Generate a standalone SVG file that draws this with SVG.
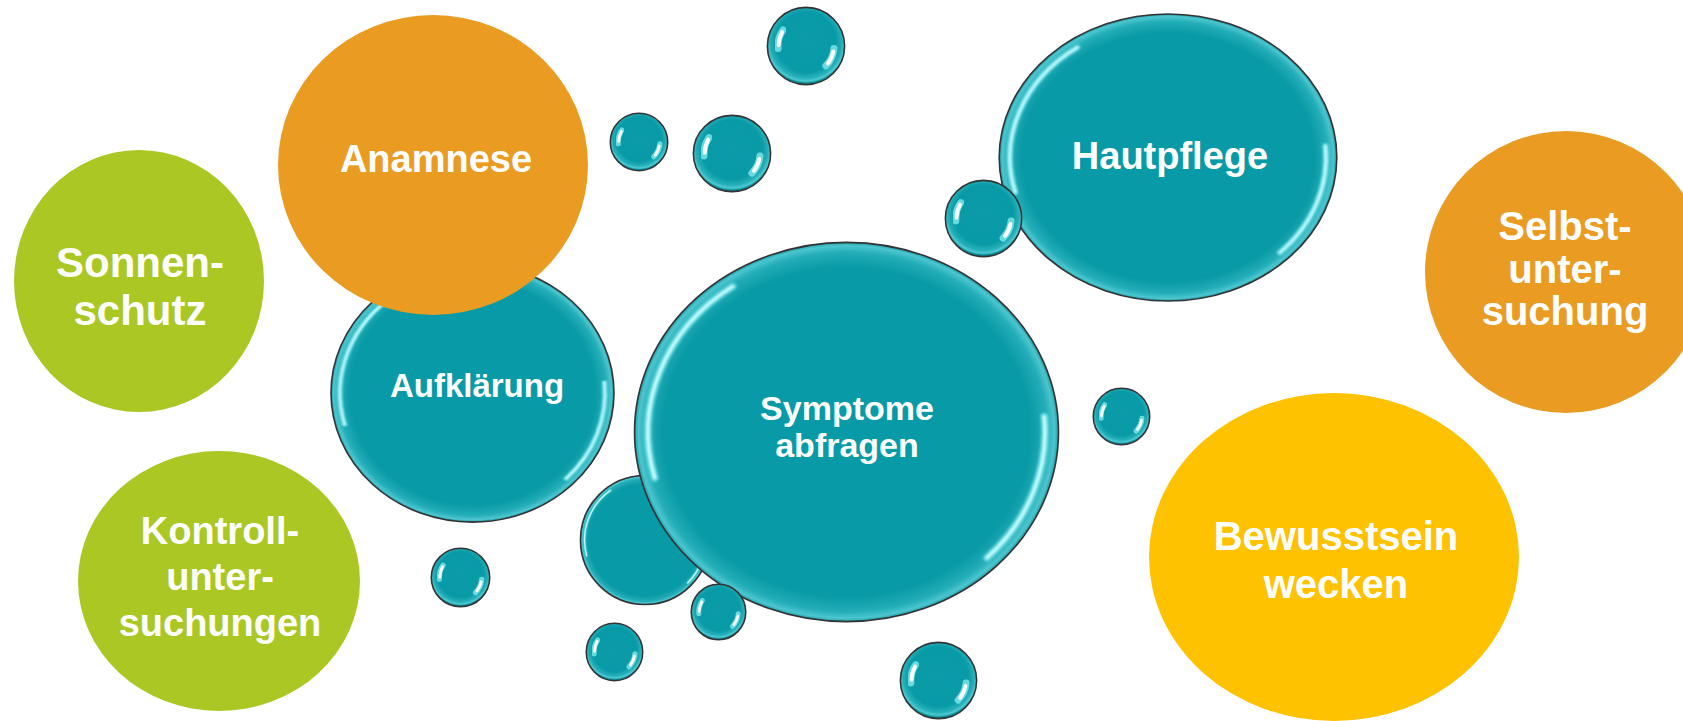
<svg xmlns="http://www.w3.org/2000/svg" xmlns:xlink="http://www.w3.org/1999/xlink" width="1683" height="721" viewBox="0 0 1683 721">
<style>
.lbl{font-family:"Liberation Sans",Arial,sans-serif;font-weight:bold;fill:#ffffff;text-anchor:middle}
.f42{font-size:42px}
.f40{font-size:40px}
.f38{font-size:38px}
.f34{font-size:34px}
.f33{font-size:33px}
.green{fill:#aac724}
.orange{fill:#ea9b22}
.yellow{fill:#fec200}
.outline{fill:none;stroke:#333333;stroke-width:1.6}
</style>
<defs>
<radialGradient id="gT" cx="0" cy="0" r="100" gradientUnits="userSpaceOnUse">
<stop offset="0" stop-color="#089aa6"/>
<stop offset="0.86" stop-color="#089aa6"/>
<stop offset="0.94" stop-color="#23adb8"/>
<stop offset="0.975" stop-color="#4cc6cf"/>
<stop offset="1" stop-color="#0b8c97"/>
</radialGradient>
<radialGradient id="gS" cx="0" cy="-10" r="110" gradientUnits="userSpaceOnUse">
<stop offset="0" stop-color="#0c9ca9"/>
<stop offset="0.7" stop-color="#089aa6"/>
<stop offset="0.84" stop-color="#25b0ba"/>
<stop offset="0.91" stop-color="#50c9d1"/>
<stop offset="0.95" stop-color="#0b8f9a"/>
</radialGradient>
<filter id="softL" x="-50%" y="-50%" width="200%" height="200%"><feGaussianBlur stdDeviation="0.6"/></filter>
<filter id="softS" x="-50%" y="-50%" width="200%" height="200%"><feGaussianBlur stdDeviation="2"/></filter>
<symbol id="bubbleL" viewBox="-100 -100 200 200" preserveAspectRatio="none" overflow="visible">
<circle r="99.3" fill="url(#gT)"/>
<path d="M -89.8 24.1 A 93 93 0 0 1 -53.3 -76.2" fill="none" stroke="#7fe9ef" stroke-width="4" stroke-linecap="round" opacity="0.55" filter="url(#softL)"/>
<path d="M -89.8 24.1 A 93 93 0 0 1 -53.3 -76.2" fill="none" stroke="#c4fcff" stroke-width="1.8" stroke-linecap="round" filter="url(#softL)"/>
<path d="M 92.6 -8.1 A 93 93 0 0 1 65.8 65.8" fill="none" stroke="#7fe9ef" stroke-width="4" stroke-linecap="round" opacity="0.55" filter="url(#softL)"/>
<path d="M 92.6 -8.1 A 93 93 0 0 1 65.8 65.8" fill="none" stroke="#c4fcff" stroke-width="1.8" stroke-linecap="round" filter="url(#softL)"/>
<circle r="99.3" class="outline" vector-effect="non-scaling-stroke"/>
</symbol>
<symbol id="bubbleS" viewBox="-100 -100 200 200" preserveAspectRatio="none" overflow="visible">
<circle r="99" fill="url(#gS)"/>
<path d="M -71.7 6.3 A 72 72 0 0 1 -59 -41.3" fill="none" stroke="#8aeef3" stroke-width="18" stroke-linecap="round" opacity="0.75" filter="url(#softS)"/>
<path d="M -70 -2 A 72 72 0 0 1 -61 -36" fill="none" stroke="#ffffff" stroke-width="10" stroke-linecap="round" filter="url(#softS)"/>
<path d="M 71.7 6.3 A 72 72 0 0 1 50.9 50.9" fill="none" stroke="#8aeef3" stroke-width="18" stroke-linecap="round" opacity="0.75" filter="url(#softS)"/>
<path d="M 70 14 A 72 72 0 0 1 56 45" fill="none" stroke="#ffffff" stroke-width="10" stroke-linecap="round" filter="url(#softS)"/>
<circle r="99" class="outline" vector-effect="non-scaling-stroke"/>
</symbol>
</defs>
<rect width="1683" height="721" fill="#ffffff"/>

<g id="node-sonnenschutz">
<ellipse class="green" cx="139" cy="281" rx="125" ry="131"/>
<text class="lbl f42" x="140" y="277">Sonnen-</text>
<text class="lbl f42" x="140" y="325">schutz</text>
</g>

<g id="node-kontrolluntersuchungen">
<ellipse class="green" cx="219" cy="581" rx="141" ry="130"/>
<text class="lbl f38" x="220" y="544">Kontroll-</text>
<text class="lbl f38" x="220" y="590">unter-</text>
<text class="lbl f38" x="220" y="636">suchungen</text>
</g>

<g id="node-aufklaerung">
<use xlink:href="#bubbleL" href="#bubbleL" x="330" y="263" width="285" height="260"/>
<text class="lbl f33" x="477" y="397">Aufklärung</text>
</g>

<g id="node-anamnese">
<ellipse class="orange" cx="433" cy="165" rx="155" ry="150"/>
<text class="lbl f38" x="436" y="172">Anamnese</text>
</g>

<g id="bubble-6">
<use xlink:href="#bubbleL" href="#bubbleL" x="580" y="475" width="130" height="130"/>
</g>

<g id="node-symptome">
<use xlink:href="#bubbleL" href="#bubbleL" x="633" y="241" width="427" height="382"/>
<text class="lbl f34" x="847" y="420">Symptome</text>
<text class="lbl f34" x="847" y="457">abfragen</text>
</g>

<g id="node-hautpflege">
<use xlink:href="#bubbleL" href="#bubbleL" x="998" y="13" width="340" height="289"/>
<text class="lbl f38" x="1170" y="169">Hautpflege</text>
</g>

<g id="small-bubbles">
<use xlink:href="#bubbleS" href="#bubbleS" x="767" y="7" width="78" height="78"/>
<use xlink:href="#bubbleS" href="#bubbleS" x="610" y="113" width="58" height="58"/>
<use xlink:href="#bubbleS" href="#bubbleS" x="693" y="115" width="78" height="77"/>
<use xlink:href="#bubbleS" href="#bubbleS" x="945" y="180" width="77" height="77"/>
<use xlink:href="#bubbleS" href="#bubbleS" x="1093" y="388" width="57" height="57"/>
<use xlink:href="#bubbleS" href="#bubbleS" x="691" y="584" width="55" height="56"/>
<use xlink:href="#bubbleS" href="#bubbleS" x="586" y="623" width="57" height="58"/>
<use xlink:href="#bubbleS" href="#bubbleS" x="431" y="548" width="59" height="59"/>
<use xlink:href="#bubbleS" href="#bubbleS" x="900" y="642" width="77" height="77"/>
</g>

<g id="node-selbstuntersuchung">
<ellipse class="orange" cx="1566" cy="272" rx="141" ry="141"/>
<text class="lbl f40" x="1565" y="240">Selbst-</text>
<text class="lbl f40" x="1565" y="283">unter-</text>
<text class="lbl f40" x="1565" y="325">suchung</text>
</g>

<g id="node-bewusstsein">
<ellipse class="yellow" cx="1334" cy="557" rx="185" ry="164"/>
<text class="lbl f40" x="1336" y="550">Bewusstsein</text>
<text class="lbl f40" x="1336" y="598">wecken</text>
</g>
</svg>
